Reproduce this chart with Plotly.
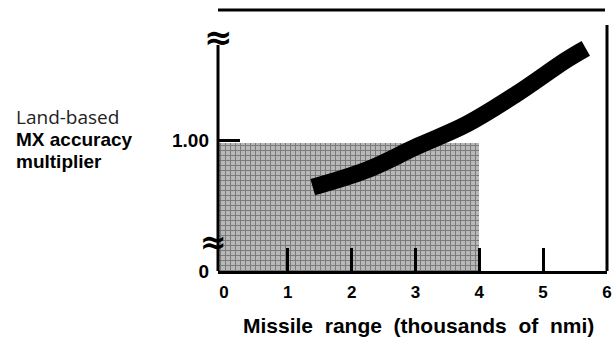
import plotly.graph_objects as go

# ---- data ----
range_k = [1.39, 2.23, 3.02, 3.80, 4.58, 5.36, 5.67]          # missile range (thousands of nmi)
multiplier = [0.64, 0.77, 0.95, 1.12, 1.35, 1.61, 1.70]       # land-based MX accuracy multiplier
x_ticks = [0, 1, 2, 3, 4, 5, 6]
x_tick_labels = ["0", "1", "2", "3", "4", "5", "6"]
x_marks = [1, 2, 3, 4, 5]
y_ticks = [0, 1.0]
y_tick_labels = ["0", "1.00"]
shade_x_end = 4.0
shade_top = 0.98

X_MIN, X_MAX = -0.094, 6.002
Y_MIN, Y_MAX = 0.0, 2.008

BOLD = "Liberation Sans, Arial, sans-serif"

fig = go.Figure()

# shaded (halftone) region
fig.add_trace(go.Bar(
    x=[(X_MIN + shade_x_end) / 2], y=[shade_top], width=[shade_x_end - X_MIN], base=0,
    marker=dict(color="#b3b3b3", line=dict(width=0),
                pattern=dict(shape="+", fgcolor="#3a3a3a", bgcolor="#b8b8b8", size=5, solidity=0.35)),
    hoverinfo="skip", showlegend=False))

# thick band curve
fig.add_trace(go.Scatter(
    x=range_k, y=multiplier, mode="lines",
    line=dict(color="black", width=17, shape="spline"),
    hoverinfo="skip", showlegend=False))

# invisible trace to carry the tick-mark axis
fig.add_trace(go.Scatter(x=[X_MIN, X_MAX], y=[0, 0], xaxis="x2", mode="markers",
                         marker=dict(opacity=0), hoverinfo="skip", showlegend=False))

fig.update_layout(
    width=614, height=338,
    margin=dict(l=218, r=7, t=8, b=67, autoexpand=False),
    paper_bgcolor="white", plot_bgcolor="white",
    bargap=0,
    xaxis=dict(range=[X_MIN, X_MAX], tickvals=x_ticks,
               ticktext=["<b>%s</b>" % t for t in x_tick_labels],
               ticks="", showline=True, linewidth=3, linecolor="black",
               showgrid=False, zeroline=False, ticklabelstandoff=4,
               ticklabeloverflow="allow",
               tickfont=dict(family=BOLD, size=17, color="black")),
    xaxis2=dict(range=[X_MIN, X_MAX], overlaying="x", anchor="y", side="bottom",
                tickvals=x_marks, ticks="inside", ticklen=23, tickwidth=3, tickcolor="black",
                showticklabels=False, showline=False, showgrid=False, zeroline=False),
    yaxis=dict(range=[Y_MIN, Y_MAX], tickvals=y_ticks,
               ticktext=["<b>%s</b>" % t for t in y_tick_labels],
               ticks="inside", ticklen=22, tickwidth=3, tickcolor="black",
               showline=False, showgrid=False, zeroline=False, ticklabelstandoff=8,
               tickfont=dict(family=BOLD, size=19, color="black")),
)

def py(pix):  # reference pixel row -> paper y
    return (271 - pix) / 263.0

def px(pix):  # reference pixel column -> paper x
    return (pix - 218) / 389.0

line = dict(color="black", width=3)
fig.add_shape(type="line", xref="paper", yref="paper", x0=0, x1=0, y0=0, y1=py(45), line=line)
fig.add_shape(type="line", xref="paper", yref="paper", x0=1, x1=1, y0=0, y1=py(25), line=line)
fig.add_shape(type="line", xref="paper", yref="paper", x0=0, x1=px(605), y0=py(10), y1=py(10), line=line)

# axis-break marks
fig.add_annotation(xref="paper", yref="paper", x=0, y=py(37), text="<b>≈</b>", showarrow=False,
                   font=dict(family="DejaVu Sans", size=34, color="black"), xanchor="center", yanchor="middle")
fig.add_annotation(xref="paper", yref="paper", x=px(213), y=py(242), text="<b>≈</b>", showarrow=False,
                   font=dict(family="DejaVu Sans", size=32, color="black"), xanchor="center", yanchor="middle")

# y-axis label (three lines)
fig.add_annotation(xref="paper", yref="paper", x=px(14), y=py(117), text="Land-based", showarrow=False,
                   xanchor="left", yanchor="middle",
                   font=dict(family="Open Sans, sans-serif", size=19, color="#222"))
fig.add_annotation(xref="paper", yref="paper", x=px(14), y=py(139), text="<b>MX accuracy</b>", showarrow=False,
                   xanchor="left", yanchor="middle", font=dict(family=BOLD, size=19, color="black"))
fig.add_annotation(xref="paper", yref="paper", x=px(14), y=py(161), text="<b>multiplier</b>", showarrow=False,
                   xanchor="left", yanchor="middle", font=dict(family=BOLD, size=19, color="black"))

# x-axis title
fig.add_annotation(xref="paper", yref="paper", x=px(418), y=py(325),
                   text="<b>Missile  range  (thousands  of  nmi)</b>", showarrow=False,
                   xanchor="center", yanchor="middle", font=dict(family=BOLD, size=21, color="black"))

# remove the default page margin so the figure fills the window exactly
fig.write_html("out.html", config={"displayModeBar": False},
               post_script="document.body.style.margin='0';document.body.style.overflow='hidden';")
